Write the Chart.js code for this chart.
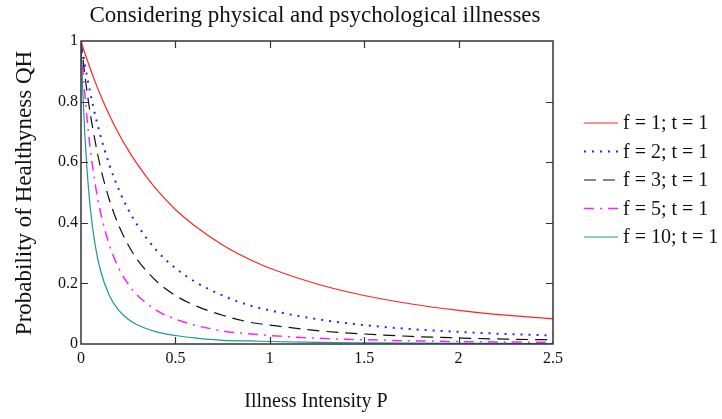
<!DOCTYPE html>
<html><head><meta charset="utf-8">
<script src="https://cdn.jsdelivr.net/npm/chart.js@4/dist/chart.umd.min.js"></script>
<style>html,body{margin:0;padding:0;background:#fff;}canvas{display:block;}</style>
</head><body>
<canvas id="c" width="722" height="419"></canvas>
<script>
const P = [0, 0.01, 0.02, 0.03, 0.05, 0.075, 0.1, 0.15, 0.2, 0.25, 0.3, 0.4, 0.5, 0.6, 0.75, 0.9, 1, 1.25, 1.5, 1.75, 2, 2.25, 2.5];
const qh_f1  = [1, 0.98, 0.961, 0.943, 0.907, 0.865, 0.826, 0.756, 0.694, 0.64, 0.592, 0.51, 0.444, 0.391, 0.327, 0.277, 0.25, 0.198, 0.16, 0.132, 0.111, 0.095, 0.083];
const qh_f2  = [1, 0.961, 0.925, 0.89, 0.826, 0.756, 0.694, 0.592, 0.51, 0.444, 0.391, 0.309, 0.25, 0.207, 0.16, 0.126, 0.111, 0.082, 0.0625, 0.049, 0.04, 0.033, 0.028];
const qh_f3  = [1, 0.943, 0.89, 0.842, 0.756, 0.669, 0.592, 0.476, 0.391, 0.327, 0.277, 0.207, 0.16, 0.128, 0.095, 0.071, 0.0625, 0.044, 0.033, 0.025, 0.02, 0.016, 0.014];
const qh_f5  = [1, 0.907, 0.826, 0.756, 0.64, 0.529, 0.444, 0.327, 0.25, 0.198, 0.16, 0.111, 0.082, 0.0625, 0.043, 0.033, 0.028, 0.019, 0.014, 0.0105, 0.008, 0.0066, 0.0055];
const qh_f10 = [1, 0.826, 0.694, 0.592, 0.444, 0.327, 0.25, 0.16, 0.111, 0.082, 0.0625, 0.04, 0.028, 0.02, 0.0118, 0.01, 0.0083, 0.0053, 0.0039, 0.003, 0.0023, 0.0018, 0.0015];
const seriesLabels = ["f = 1; t = 1", "f = 2; t = 1", "f = 3; t = 1", "f = 5; t = 1", "f = 10; t = 1"];
const xTicks = [0, 0.5, 1, 1.5, 2, 2.5];
const yTicks = [0, 0.2, 0.4, 0.6, 0.8, 1];
const titleText = "Considering physical and psychological illnesses";
const xTitle = "Illness Intensity P";
const yTitle = "Probability of Healthyness QH";

const styles = [
  {color:'#ff2424', dash:[], width:1.2},
  {color:'#2323ff', dash:[2,6], width:2},
  {color:'#111111', dash:[12,7], width:1.2},
  {color:'#ff22ff', dash:[10,6,2,6], width:1.5},
  {color:'#1a9a94', dash:[], width:1.2}
];
const allSeries = [qh_f1, qh_f2, qh_f3, qh_f5, qh_f10];
const datasets = allSeries.map((arr, i) => ({
  label: seriesLabels[i],
  data: arr.map((v, k) => ({x: P[k], y: v})),
  borderColor: styles[i].color,
  borderDash: styles[i].dash,
  borderWidth: styles[i].width,
  pointRadius: 0,
  fill: false,
  cubicInterpolationMode: 'monotone'
}));

const serif = '"Liberation Serif", "DejaVu Serif", serif';

const decor = {
  id: 'decor',
  beforeDraw(chart) {
    const ctx = chart.ctx;
    ctx.save();
    ctx.fillStyle = '#fff';
    ctx.fillRect(0, 0, chart.width, chart.height);
    ctx.restore();
  },
  afterDraw(chart) {
    const ctx = chart.ctx;
    const a = chart.chartArea;
    const xs = chart.scales.x, ys = chart.scales.y;
    ctx.save();
    ctx.strokeStyle = '#333';
    ctx.lineWidth = 1.5;
    ctx.setLineDash([]);
    ctx.strokeRect(a.left, a.top, a.right - a.left, a.bottom - a.top);
    ctx.lineWidth = 1.2;
    const tl = 7;
    xTicks.forEach(v => {
      if (v === 0 || v === 2.5) return;
      const px = Math.round(xs.getPixelForValue(v)) + 0.5;
      ctx.beginPath();
      ctx.moveTo(px, a.bottom); ctx.lineTo(px, a.bottom - tl);
      ctx.moveTo(px, a.top); ctx.lineTo(px, a.top + tl);
      ctx.stroke();
    });
    yTicks.forEach(v => {
      if (v === 0 || v === 1) return;
      const py = Math.round(ys.getPixelForValue(v)) + 0.5;
      ctx.beginPath();
      ctx.moveTo(a.left, py); ctx.lineTo(a.left + tl, py);
      ctx.moveTo(a.right, py); ctx.lineTo(a.right - tl, py);
      ctx.stroke();
    });
    ctx.fillStyle = '#111';
    ctx.font = '23px ' + serif;
    ctx.textAlign = 'center';
    ctx.textBaseline = 'middle';
    ctx.fillText(titleText, 315, 16);
    ctx.font = '20px ' + serif;
    ctx.fillText(xTitle, 316, 402);
    ctx.save();
    ctx.translate(25, 193);
    ctx.rotate(-Math.PI / 2);
    ctx.font = '23px ' + serif;
    ctx.fillText(yTitle, 0, 0);
    ctx.restore();
    ctx.font = '20px ' + serif;
    ctx.textAlign = 'left';
    chart.data.datasets.forEach((ds, i) => {
      const y = 123 + i * 28.5;
      ctx.strokeStyle = ds.borderColor;
      ctx.lineWidth = ds.borderWidth;
      ctx.setLineDash(ds.borderDash);
      ctx.beginPath();
      ctx.moveTo(584, y); ctx.lineTo(618, y);
      ctx.stroke();
      ctx.setLineDash([]);
      ctx.fillStyle = '#111';
      ctx.fillText(ds.label, 623, y + 1);
    });
    ctx.restore();
  }
};

new Chart(document.getElementById('c'), {
  type: 'line',
  data: { datasets },
  options: {
    responsive: false,
    animation: false,
    layout: { padding: { left: 0, top: 41, right: 722 - 553, bottom: 0 } },
    plugins: { legend: { display: false }, tooltip: { enabled: false }, title: { display: false } },
    scales: {
      x: {
        type: 'linear', min: 0, max: 2.5,
        afterFit: s => { s.height = 419 - 344; },
        afterBuildTicks: s => { s.ticks = xTicks.map(v => ({value: v})); },
        grid: { display: false, drawTicks: false },
        border: { display: false },
        ticks: { color: '#111', padding: 5, maxRotation: 0, font: { family: serif, size: 16 }, callback: v => String(v) }
      },
      y: {
        type: 'linear', min: 0, max: 1,
        afterFit: s => { s.width = 81; },
        afterBuildTicks: s => { s.ticks = yTicks.map(v => ({value: v})); },
        grid: { display: false, drawTicks: false },
        border: { display: false },
        ticks: { color: '#111', padding: 3, font: { family: serif, size: 16 }, callback: v => String(v) }
      }
    }
  },
  plugins: [decor]
});
</script>
</body></html>
